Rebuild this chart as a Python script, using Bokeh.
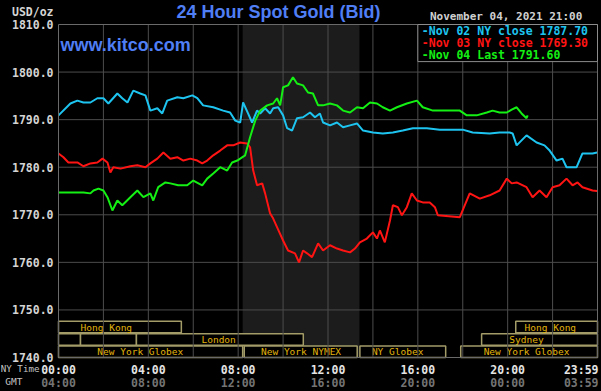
from bokeh.plotting import figure
from bokeh.models import ColumnDataSource, Label, Range1d, GlobalInlineStyleSheet
from bokeh.core.properties import value
from bokeh.embed import file_html
from bokeh.resources import INLINE

# ---------------- data ----------------
nov02_hours = [0, 0.53, 0.84, 1.11, 1.42, 1.73, 2.0, 2.22, 2.62, 2.84, 3.07, 3.33, 3.64, 3.87,
               4.09, 4.4, 4.62, 4.84, 5.29, 5.56, 5.96, 6.18, 6.44, 6.89, 7.33, 7.64, 7.87,
               8.09, 8.22, 8.44, 8.62, 8.84, 8.98, 9.2, 9.42, 9.56, 9.78, 10.0, 10.18, 10.4,
               10.62, 10.89, 11.2, 11.42, 11.64, 11.78, 12.09, 12.4, 12.67, 12.98, 13.29,
               13.56, 14.0, 14.44, 14.89, 15.33, 15.78, 16.4, 16.98, 18.0, 18.44, 19.2, 19.64,
               20.09, 20.22, 20.4, 20.84, 21.29, 21.64, 21.87, 22.18, 22.44, 22.62, 23.07,
               23.33, 23.78, 23.98]
nov02_price = [1790.9, 1793.4, 1794.0, 1793.6, 1793.6, 1794.5, 1794.5, 1793.4, 1795.5, 1794.5,
               1793.6, 1796.1, 1795.5, 1795.1, 1791.9, 1792.4, 1791.3, 1794.0, 1794.7, 1794.5,
               1795.1, 1794.5, 1793.0, 1792.6, 1791.9, 1791.5, 1789.8, 1789.4, 1793.6, 1791.3,
               1789.4, 1791.9, 1791.3, 1792.4, 1791.3, 1792.4, 1792.6, 1790.9, 1788.2, 1787.7,
               1790.3, 1790.5, 1791.5, 1790.5, 1791.3, 1789.4, 1788.8, 1789.4, 1788.4, 1788.8,
               1789.2, 1787.7, 1787.3, 1787.1, 1787.3, 1787.7, 1788.2, 1788.2, 1787.9, 1787.9,
               1787.3, 1787.1, 1787.3, 1787.3, 1787.1, 1784.6, 1786.7, 1785.2, 1784.6, 1783.5,
               1781.4, 1781.8, 1780.0, 1780.0, 1782.9, 1782.9, 1783.1]

nov03_hours = [0, 0.22, 0.44, 0.84, 1.11, 1.42, 1.73, 1.96, 2.18, 2.31, 2.44, 2.76, 3.2, 3.51,
               3.87, 4.09, 4.4, 4.67, 4.98, 5.29, 5.56, 5.87, 6.18, 6.4, 6.62, 6.89, 7.2, 7.51,
               7.78, 8.09, 8.4, 8.53, 8.67, 8.84, 9.07, 9.2, 9.42, 9.56, 9.73, 10.0, 10.22,
               10.53, 10.71, 10.89, 11.07, 11.29, 11.56, 11.78, 12.09, 12.4, 12.67, 12.98, 13.2,
               13.42, 13.73, 14.0, 14.18, 14.31, 14.53, 14.76, 14.89, 15.11, 15.29, 15.51,
               15.73, 15.96, 16.22, 16.53, 16.76, 16.89, 17.87, 18.31, 18.76, 19.2, 19.64,
               19.96, 20.18, 20.4, 20.84, 21.11, 21.42, 21.73, 22.0, 22.31, 22.62, 22.89,
               23.11, 23.33, 23.78, 23.98]
nov03_price = [1782.9, 1782.1, 1781.0, 1781.0, 1780.2, 1780.8, 1781.0, 1781.8, 1781.0, 1778.9,
               1780.0, 1779.7, 1780.2, 1780.4, 1780.0, 1780.8, 1781.8, 1783.1, 1781.8, 1782.1,
               1781.4, 1781.8, 1781.4, 1780.8, 1781.4, 1782.5, 1783.5, 1784.6, 1784.6, 1785.2,
               1785.0, 1784.2, 1779.3, 1776.2, 1776.6, 1774.5, 1770.3, 1769.2, 1767.4, 1764.6,
               1762.5, 1761.9, 1760.0, 1762.5, 1761.9, 1761.1, 1764.0, 1762.5, 1763.6, 1762.9,
               1762.5, 1762.1, 1762.9, 1764.2, 1765.0, 1766.3, 1765.0, 1766.7, 1764.2, 1768.8,
               1772.0, 1771.6, 1769.9, 1771.6, 1774.5, 1773.0, 1772.6, 1772.6, 1771.6, 1769.9,
               1769.5, 1774.5, 1773.4, 1774.1, 1775.1, 1777.6, 1776.6, 1776.8, 1775.8, 1773.7,
               1775.1, 1773.7, 1775.8, 1776.2, 1777.6, 1776.2, 1776.8, 1775.8, 1775.1, 1775.0]

nov04_hours = [0, 0.53, 1.11, 1.42, 1.56, 1.78, 2.0, 2.18, 2.4, 2.62, 2.84, 3.2, 3.51, 3.78,
               4.09, 4.22, 4.44, 4.76, 4.98, 5.33, 5.73, 6.0, 6.4, 6.62, 6.89, 7.2, 7.51, 7.73,
               7.96, 8.09, 8.31, 8.53, 8.76, 8.98, 9.29, 9.56, 9.73, 9.87, 10.0, 10.22, 10.44,
               10.62, 10.89, 11.11, 11.33, 11.56, 11.78, 12.09, 12.4, 12.67, 12.98, 13.29,
               13.56, 13.87, 14.18, 14.44, 14.76, 15.07, 15.51, 15.96, 16.22, 16.67, 16.98,
               17.87, 18.18, 18.62, 19.07, 19.33, 19.64, 19.96, 20.18, 20.4, 20.62, 20.84, 20.89]
nov04_price = [1774.7, 1774.7, 1774.7, 1774.5, 1775.1, 1775.5, 1775.1, 1773.7, 1770.9, 1773.0,
               1772.0, 1773.7, 1775.1, 1773.7, 1774.5, 1773.0, 1775.8, 1776.8, 1776.6, 1776.2,
               1776.2, 1777.2, 1776.2, 1777.6, 1778.7, 1780.0, 1779.3, 1781.0, 1781.4, 1781.8,
               1782.5, 1786.3, 1789.8, 1791.9, 1793.0, 1793.4, 1794.5, 1793.0, 1796.8, 1797.2,
               1798.9, 1797.6, 1797.2, 1795.7, 1795.5, 1793.0, 1793.0, 1793.4, 1793.0, 1791.9,
               1791.5, 1792.6, 1792.4, 1793.6, 1793.4, 1792.6, 1791.9, 1792.6, 1793.4, 1794.0,
               1792.6, 1791.9, 1791.9, 1791.9, 1790.9, 1790.9, 1791.5, 1791.9, 1791.5, 1791.5,
               1792.1, 1792.6, 1791.3, 1790.3, 1790.9]

nov02_close = 1787.70
nov03_close = 1769.30
nov04_last = 1791.60
timestamp = "November 04, 2021 21:00"

y_ticks = [1740, 1750, 1760, 1770, 1780, 1790, 1800, 1810]
grid_hours = [0, 2, 4, 6, 8, 10, 12, 14, 16, 18, 20, 22, 24]
label_hours = [0, 4, 8, 12, 16, 20, 24]
ny_time_labels = ["00:00", "04:00", "08:00", "12:00", "16:00", "20:00", "23:59"]
gmt_labels = ["04:00", "08:00", "12:00", "16:00", "20:00", "00:00", "03:59"]

nymex_pit = [8.2, 13.4]

session_names = ["New York Globex", "New York NYMEX", "NY Globex", "New York Globex",
                 "", "", "London", "Sydney",
                 "Hong Kong", "Hong Kong"]
session_start = [0, 8.27, 13.42, 17.91, 0, 0.98, 3.47, 18.84, 0, 20.36]
session_end = [8.2, 13.3, 17.24, 24, 0.98, 3.47, 10.9, 24, 5.47, 24]
session_row = [0, 0, 0, 0, 1, 1, 1, 1, 2, 2]
session_label_at = [3.64, 10.8, 15.1, 20.84, 0.5, 2.2, 7.13, 20.84, 2.13, 21.9]

# ---------------- layout (pixels of the 601x391 canvas) ----------------
W, H = 601, 391
BOX_L, BOX_R, BOX_T, BOX_B = 58, 597, 24, 357
X0, X1 = 0, 24
Y0, Y1 = 1740, 1810
sx = (BOX_R - BOX_L) / (X1 - X0)
sy = (BOX_B - BOX_T) / (Y1 - Y0)
x_range = Range1d(X0 - BOX_L / sx, X1 + (W - BOX_R) / sx)
y_range = Range1d(Y0 - (H - BOX_B) / sy, Y1 + BOX_T / sy)

MONO = "DejaVu Sans Mono"
SANS = "Liberation Sans"
BLUE = "#4f7ef5"
GRID = "#4c4c4c"

p = figure(width=W, height=H, output_backend="svg", toolbar_location=None,
           x_range=x_range, y_range=y_range,
           x_axis_location=None, y_axis_location=None, title=None,
           min_border=0, min_border_left=0, min_border_right=0,
           min_border_top=0, min_border_bottom=0,
           background_fill_color="#000000", border_fill_color="#000000",
           outline_line_color=None)
p.xgrid.visible = False
p.ygrid.visible = False
p.stylesheets = [GlobalInlineStyleSheet(css="html, body { background-color: #000000; }")]

# NYMEX shading
p.quad(left=[nymex_pit[0]], right=[nymex_pit[1]], bottom=[Y0], top=[Y1],
       fill_color="#1b1c1b", line_color=None, level="image")

# market session boxes
ROW_STEP, ROW_H = 2.6, 2.4
sess = ColumnDataSource(dict(
    name=session_names,
    left=session_start,
    right=session_end,
    bottom=[Y0 + r * ROW_STEP for r in session_row],
    top=[Y0 + r * ROW_STEP + ROW_H for r in session_row],
    mid=[Y0 + r * ROW_STEP + ROW_H / 2 for r in session_row],
    lx=session_label_at,
))
p.quad(left="left", right="right", bottom="bottom", top="top", source=sess,
       fill_color="#000000", line_color="#a39c68", line_width=1.5, level="image")
p.text(x="lx", y="mid", text="name", source=sess, text_font=value(MONO),
       text_font_size="9.5px", text_color="#e2b40c", text_align="center",
       text_baseline="middle", level="image")

# grid lines
inner_h = [h for h in grid_hours if X0 < h < X1]
inner_v = [v for v in y_ticks if Y0 < v < Y1]
p.segment(x0=inner_h, y0=[Y0] * len(inner_h), x1=inner_h, y1=[Y1] * len(inner_h),
          line_color=GRID, line_width=1, level="underlay")
p.segment(x0=[X0] * len(inner_v), y0=inner_v, x1=[X1] * len(inner_v), y1=inner_v,
          line_color=GRID, line_width=1, level="underlay")

# price lines
p.line(nov02_hours, nov02_price, line_color="#1ec4f0", line_width=2)
p.line(nov03_hours, nov03_price, line_color="#ff1414", line_width=2)
p.line(nov04_hours, nov04_price, line_color="#14f014", line_width=2)

# plot frame
p.quad(left=[X0], right=[X1], bottom=[Y0], top=[Y1], fill_color=None,
       line_color="#6a6a6a", line_width=1)

# legend box
LEG_LEFT, LEG_BOTTOM = 16, 1802.2
p.quad(left=[LEG_LEFT], right=[X1], bottom=[LEG_BOTTOM], top=[Y1],
       fill_color="#000000", line_color="#8c8c8c", line_width=1)


def add_label(x, y, text, dx=0, dy=0, font=MONO, size="11.5px", color="#d0d0d0",
              align="left", style="bold"):
    p.add_layout(Label(x=x, y=y, x_offset=dx, y_offset=dy, text=text, text_font=font,
                       text_font_size=size, text_color=color, text_align=align,
                       text_baseline="middle", text_font_style=style))


legend_items = [(f"-Nov 02 NY close {nov02_close:.2f}", "#1ec4f0"),
                (f"-Nov 03 NY close {nov03_close:.2f}", "#ff1414"),
                (f"-Nov 04 Last {nov04_last:.2f}", "#14f014")]
for i, (txt, col) in enumerate(legend_items):
    add_label(LEG_LEFT, Y1, txt, dx=4, dy=-6 - 12.1 * i, color=col)

# y tick labels
for v in y_ticks:
    add_label(X0, v, f"{v:.1f}", dx=-5, align="right", color="#d4d4d4")
add_label(X0, Y1, "USD/oz", dx=-5, dy=13, align="right", color="#d4d4d4")

# titles and top texts
add_label(9.8, Y1, "24 Hour Spot Gold (Bid)", dy=12.3, font=SANS, size="18px",
          color=BLUE, align="center")
add_label(X0, Y1, "www.kitco.com", dx=2, dy=-20, font=SANS, size="18px", color=BLUE)
add_label(19.93, Y1, timestamp, dy=8, size="11px", align="center", color="#d0d0d0")

# bottom time rows
add_label(X0, Y0, "NY Time", dx=-19, dy=-10.5, size="9.2px", align="right",
          color="#c4c4c4", style="normal")
add_label(X0, Y0, "GMT", dx=-36, dy=-23.5, size="9.5px", align="right",
          color="#c4c4c4", style="normal")
for h, ny, gmt in zip(label_hours, ny_time_labels, gmt_labels):
    al = "right" if h == label_hours[-1] else "center"
    dx = 1 if h == label_hours[-1] else 0
    add_label(h, Y0, ny, dx=dx, dy=-12, align=al, color="#e4e4e4")
    add_label(h, Y0, gmt, dx=dx, dy=-25.5, align=al, color="#747474")

open("out.html", "w").write(file_html(p, INLINE))
